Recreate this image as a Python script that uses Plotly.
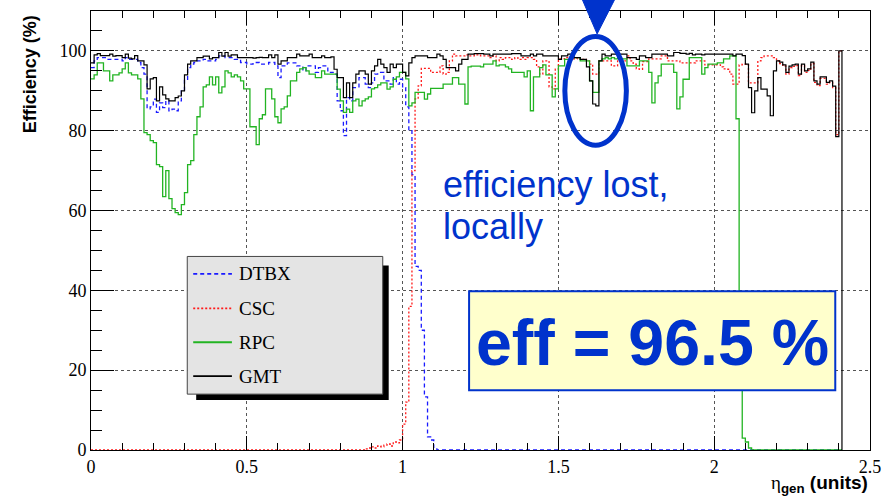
import numpy as np
import plotly.graph_objects as go

# ---------------------------------------------------------------------------
# Trigger efficiency vs generated pseudorapidity, 0.01-wide bins from 0 to 2.41
# ---------------------------------------------------------------------------
BIN_W = 0.01
N_BINS = 241
ETA_LO = np.round(np.arange(N_BINS) * BIN_W, 3)

SERIES_NAMES = ["DTBX", "CSC", "RPC", "GMT"]

GMT = [
    97, 99, 99.3, 98.8, 98.8, 98.8, 99.2, 98.7, 98.8, 98.8,
    98.3, 99.2, 98.2, 98, 98.8, 97.5, 97.5, 96.5, 90.5, 93,
    93.3, 87.5, 91, 89, 88, 87.5, 87.5, 88.3, 88.7, 90,
    94, 96.7, 97.5, 97.5, 98.3, 98.3, 98.7, 98.7, 98, 98.3,
    98.3, 99.6, 98.7, 99.6, 98.7, 99, 99, 98.3, 98.3, 98.3,
    98.3, 98.3, 98.2, 98.3, 98.4, 98.3, 98.3, 99, 98.3, 99,
    96.7, 97.5, 97.5, 98.3, 98.3, 98.3, 99.2, 98.75, 98.75, 98.75,
    99.2, 98.3, 98.3, 98.3, 98.75, 98.3, 98.3, 98.5, 95.4, 93.3,
    93.3, 88.3, 92, 88.3, 92, 94.2, 95, 95, 94.2, 91.7,
    95, 96.25, 97.9, 96.7, 95.8, 94.6, 96.7, 95.8, 96.7, 96.7,
    94.6, 93.75, 97, 98.3, 98.75, 98.75, 98.75, 98.75, 98.3, 98.3,
    98.3, 99.2, 98.75, 97.9, 95.8, 95.8, 95.8, 95, 96.7, 97.9,
    97.9, 99.2, 99.2, 99.3, 99.3, 99.3, 99.2, 99.2, 98.75, 99.2,
    99.2, 99.2, 99.2, 99.2, 99.2, 99.3, 99.3, 99.3, 98.75, 98.75,
    98.75, 99.2, 98.75, 99.2, 99.2, 98.75, 98.75, 98.75, 98.75, 98.75,
    97.9, 98.75, 98.75, 99.2, 99.2, 98.3, 98.3, 97.9, 97.9, 96,
    92.5, 86.7, 86.25, 97.5, 99.2, 98.75, 98.75, 99.2, 99.2, 99.2,
    99.2, 99.2, 98.3, 98.3, 98.3, 97.9, 98.75, 98.75, 98.3, 98.3,
    99.2, 99.2, 99.2, 99.2, 99.2, 98.75, 98.75, 99.6, 99.6, 99.4,
    99.4, 99.2, 99.4, 99, 99.2, 99.2, 99, 99.2, 99.2, 99.2,
    99.2, 99.2, 99.2, 99.2, 99.2, 99.2, 98.75, 99.2, 99.2, 98.8,
    96.7, 90.8, 84.5, 90, 93.3, 90.4, 90.4, 88.75, 83.75, 95,
    97.5, 97.2, 96.5, 94.6, 96.2, 96.5, 96.7, 94.2, 96.7, 95,
    95.5, 97.2, 92.5, 91.7, 93.5, 93.5, 92.1, 92.5, 91.2, 78.5,
    100,
]

DTBX = [
    95.8, 97.5, 98.3, 98.3, 98.3, 97.9, 97.9, 97.9, 97.9, 97.9,
    97.5, 98.3, 97.9, 97.9, 97.9, 97.1, 95.8, 94.2, 85.5, 86,
    87.9, 84.6, 87, 85.8, 87.5, 85, 85.4, 85, 87.5, 90,
    92.9, 95.8, 96.7, 97.1, 97.5, 97.5, 97.9, 97.5, 97.5, 97.5,
    97.9, 98.75, 98.75, 98.3, 98.3, 98.3, 97.9, 97.9, 97.1, 97.1,
    96.7, 96.7, 97.1, 97.1, 96.7, 96.7, 96.7, 97.1, 97.1, 96.25,
    93.3, 96.25, 96.25, 97, 97, 97, 96.25, 96.25, 95, 96.25,
    96.25, 96.25, 94.6, 95.8, 96.25, 96.25, 94.6, 94.6, 94.2, 87.5,
    85, 78.75, 88.3, 87.5, 90.8, 90.8, 93.3, 93.3, 91.7, 90.8,
    92, 94.2, 94.6, 94.6, 92.5, 92.5, 91.7, 93.3, 91.7, 92.9,
    90.8, 86, 80, 69, 46, 45, 30, 13.3, 3.3, 2.5,
    0.5,
] + [0.0] * 130

CSC = [0.0] * 88 + [
    0.3, 0.5,
    0.8, 0.5, 1, 0.8, 1.2, 1.5, 1, 2, 1.8, 2.5,
    6.5, 12, 36, 70, 88, 91.25, 95.6, 95.6, 95.6, 94.6,
    94.6, 94.6, 96.25, 94.2, 94.6, 97.5, 99.2, 98.75, 98.75, 98.75,
    99, 98.75, 98.75, 99, 99, 98.75, 98.75, 98.75, 98.3, 98.75,
    97.5, 98.3, 97.9, 98.3, 98.3, 97.9, 98.3, 97.9, 98.3, 97.9,
    98.3, 98.3, 97.9, 96, 94.2, 97.5, 97.5, 91, 90.5, 95.4,
    98, 98, 98.3, 98.3, 98, 98, 98.3, 97.9, 97.9, 97.5,
    96.7, 94.2, 94.2, 97.5, 97.5, 97.5, 97.5, 96.25, 96.25, 97.5,
    97.5, 97.5, 98.75, 97.5, 96.7, 95.5, 95.4, 97.3, 97.3, 98,
    98, 98, 98, 98.75, 98.75, 97.5, 97.5, 97.5, 97.5, 97,
    97, 97, 97, 97, 97.5, 97.5, 97.5, 96.5, 96.5, 96.5,
    96.5, 96.5, 96, 95.5, 95.4, 94.2, 91.7, 91.7, 96.5, 96.7,
    96.7, 92, 92, 92, 97.5, 98.3, 98.75, 98.75, 98.75, 98.3,
    97.5, 96.8, 96.2, 94.2, 95.8, 96.1, 96.3, 93.8, 96.3, 94.6,
    95.1, 96.8, 92.1, 91.3, 93.1, 93.1, 91.7, 92.1, 90.8, 79,
    100,
]

RPC = [
    93, 94, 97, 97, 95, 95, 92.5, 94, 94, 94.5,
    95.5, 97, 94.5, 94, 94, 93, 88, 79.5, 79, 77.5,
    77, 71.5, 71, 63.5, 70, 63, 60.5, 59.5, 59, 61.5,
    64.5, 71.5, 72.5, 79, 83.5, 86, 91, 91.5, 93.5, 91.5,
    93.5, 89.5, 91, 95, 94.5, 93.5, 94, 93.5, 92.5, 90.5,
    90.5, 81, 81, 76.5, 83, 84, 90.5, 90.5, 88, 83.5,
    82, 85.5, 86, 88.75, 92.5, 92.5, 94.6, 95.5, 95.8, 95,
    94.2, 94.2, 93.3, 93.3, 95, 94.2, 94.2, 94.2, 94.2, 90.4,
    87.5, 84.6, 85.4, 84.6, 87.5, 87.9, 86.25, 87.5, 88, 88.5,
    90.5, 90.8, 91.5, 92, 92, 90.4, 91, 92.9, 93.5, 94.6,
    94.6, 93, 86.25, 87, 89.6, 89.6, 89.6, 87.9, 89.2, 90.6,
    90.6, 90.6, 90.6, 91.7, 91.7, 91.7, 93.3, 93.3, 91.7, 91.7,
    86.7, 96, 96.2, 96.2, 96.2, 96, 96.7, 96.7, 96.7, 97.5,
    96.25, 96.5, 96.5, 96, 95.5, 94.6, 94.6, 94.6, 94.6, 93.5,
    95, 85, 93.5, 93.5, 95.8, 96.5, 94, 94, 88.5, 90.5,
    96.25, 96.25, 97.9, 97.9, 98.3, 98.3, 98.3, 97.5, 97.5, 97.5,
    92.5, 89.6, 89.6, 97.5, 98, 98.3, 98, 98.3, 98, 98.3,
    98, 98, 96.25, 96.25, 96.25, 96.25, 97.5, 97.5, 97.5, 94.6,
    87, 92, 93.75, 96.7, 96.7, 96.7, 96.7, 94.6, 85.5, 88.5,
    92.9, 92.9, 98.3, 98.3, 98.3, 98.3, 94.2, 95.8, 96.7, 96.7,
    96.7, 97, 97, 98, 98, 98.75, 98.75, 83, 15, 3,
    2, 0.5,
] + [0.0] * 29

EFF_TEXT = "eff = 96.5 %"
NOTE_LINES = ["efficiency lost,", "locally"]

# ---------------------------------------------------------------------------
# Figure geometry (pixels)
# ---------------------------------------------------------------------------
W, H = 891, 496
ML, MR, MT, MB = 91, 15, 10, 46
PW, PH = W - ML - MR, H - MT - MB

BLUE_NOTE = "#0033cc"
SERIF = "Liberation Serif, Times New Roman, serif"
SANS = "Liberation Sans, Arial, sans-serif"


def px(x):
    """Horizontal pixel -> paper fraction."""
    return (x - ML) / PW


def py(y):
    """Vertical pixel (from top) -> paper fraction."""
    return (H - MB - y) / PH


def step_xy(values, close=False):
    """Outline of a histogram as an 'hv' step line."""
    x = list(ETA_LO) + [round(ETA_LO[-1] + BIN_W, 3)]
    y = list(values) + [values[-1]]
    if close:
        x.append(x[-1])
        y.append(0.0)
    return x, y


STYLES = {
    "DTBX": dict(data=DTBX, color="#1a1aff", dash="4px,3px", width=1.3, close=False),
    "CSC": dict(data=CSC, color="#ff1a1a", dash="2px,2px", width=1.3, close=False),
    "RPC": dict(data=RPC, color="#22b422", dash="solid", width=1.3, close=False),
    "GMT": dict(data=GMT, color="#000000", dash="solid", width=1.2, close=True),
}

fig = go.Figure()
for name in SERIES_NAMES:
    st = STYLES[name]
    xs, ys = step_xy(st["data"], st["close"])
    fig.add_trace(go.Scatter(
        x=xs, y=ys, mode="lines", name=name, showlegend=False,
        hoverinfo="skip",
        line=dict(shape="hv", color=st["color"], dash=st["dash"], width=st["width"]),
    ))

shapes = []
annotations = []

# ---- legend box with drop shadow ------------------------------------------
LEG_X0, LEG_X1, LEG_Y0, LEG_Y1 = 188, 385, 256, 394
SHADOW = 6
shapes.append(dict(type="rect", xref="paper", yref="paper", layer="above",
                   x0=px(LEG_X0 + 9), x1=px(LEG_X1 + SHADOW), y0=py(LEG_Y1 + SHADOW), y1=py(LEG_Y0 + 9),
                   fillcolor="black", line=dict(width=0)))
shapes.append(dict(type="rect", xref="paper", yref="paper", layer="above",
                   x0=px(LEG_X0), x1=px(LEG_X1), y0=py(LEG_Y1), y1=py(LEG_Y0),
                   fillcolor="#e4e4e4", line=dict(color="#444444", width=1)))
row_y = [273.5, 308, 342, 376]
for name, yy in zip(SERIES_NAMES, row_y):
    st = STYLES[name]
    shapes.append(dict(type="line", xref="paper", yref="paper", layer="above",
                       x0=px(194), x1=px(233), y0=py(yy), y1=py(yy),
                       line=dict(color=st["color"], dash=st["dash"], width=st["width"] + 0.5)))
    annotations.append(dict(text=name, xref="paper", yref="paper", x=px(238), y=py(yy),
                            xanchor="left", yanchor="middle", showarrow=False,
                            font=dict(family=SERIF, size=19, color="black")))

# ---- highlight of the local loss ------------------------------------------
shapes.append(dict(type="circle", xref="paper", yref="paper", layer="above",
                   x0=px(568.5), x1=px(630.5), y0=py(144.5), y1=py(35.5),
                   line=dict(color=BLUE_NOTE, width=5)))
shapes.append(dict(type="path", xref="paper", yref="paper", layer="above",
                   path=(f"M {px(585)},{py(-4)} L {px(620)},{py(-4)} "
                         f"L {px(601)},{py(33)} Z"),
                   fillcolor=BLUE_NOTE, line=dict(color=BLUE_NOTE, width=1)))
for txt, yy in zip(NOTE_LINES, [184, 226]):
    annotations.append(dict(text=txt, xref="paper", yref="paper", x=px(444), y=py(yy),
                            xanchor="left", yanchor="middle", showarrow=False,
                            font=dict(family=SANS, size=36, color=BLUE_NOTE)))

# ---- efficiency box ---------------------------------------------------------
shapes.append(dict(type="rect", xref="paper", yref="paper", layer="above",
                   x0=px(472), x1=px(841), y0=py(390), y1=py(291),
                   fillcolor="#ffffcc", line=dict(color=BLUE_NOTE, width=2)))
annotations.append(dict(text=f"<b>{EFF_TEXT}</b>", xref="paper", yref="paper",
                        x=px(657), y=py(343), xanchor="center", yanchor="middle",
                        showarrow=False, font=dict(family=SANS, size=64.5, color=BLUE_NOTE)))

# ---- axis titles --------------------------------------------------------------
annotations.append(dict(text="<b>Efficiency (%)</b>", xref="paper", yref="paper",
                        x=px(29), y=py(73), xanchor="center", yanchor="middle",
                        textangle=-90, showarrow=False,
                        font=dict(family=SANS, size=18, color="black")))
annotations.append(dict(
    text=(f'<span style="font-family:{SERIF}">η</span>'
          '<sub><b>gen</b></sub><b> (units)</b>'),
    xref="paper", yref="paper", x=px(876), y=py(484), xanchor="right", yanchor="middle",
    showarrow=False, font=dict(family=SANS, size=19, color="black")))

axis_common = dict(
    showline=True, linecolor="black", linewidth=1,
    ticks="inside", tickcolor="black", tickwidth=1,
    showgrid=True, gridcolor="#555555", griddash="dot", gridwidth=1,
    zeroline=False, tickfont=dict(family=SERIF, size=18, color="black"),
)

fig.update_layout(
    width=W, height=H,
    margin=dict(l=ML, r=MR, t=MT, b=MB, pad=0),
    paper_bgcolor="white", plot_bgcolor="white",
    showlegend=False,
    xaxis=dict(range=[0, 2.5], tick0=0, dtick=0.5, ticklen=14, mirror="ticks",
               minor=dict(dtick=0.1, ticks="inside", ticklen=7, tickcolor="black", showgrid=False),
               **axis_common),
    yaxis=dict(range=[0, 110], tick0=0, dtick=20, ticklen=23, mirror=True,
               minor=dict(dtick=5, ticks="inside", ticklen=11, tickcolor="black", showgrid=False),
               **axis_common),
    shapes=shapes,
    annotations=annotations,
)

fig.write_html("out.html")
